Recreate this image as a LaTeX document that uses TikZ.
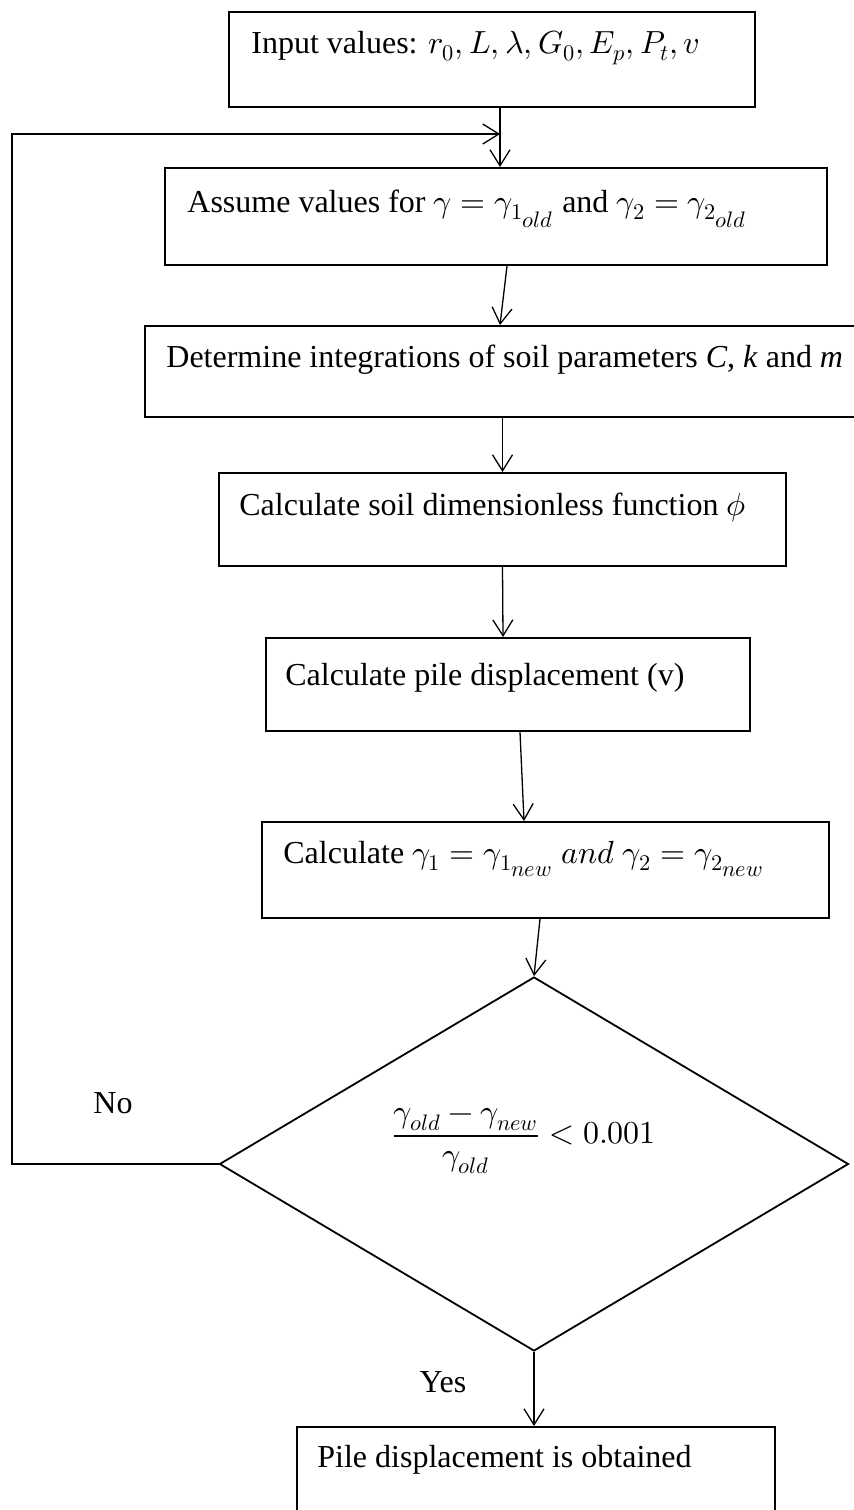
\documentclass[tikz,border=0pt]{standalone}
\usepackage{fontspec}
\usepackage{unicode-math}
\setmainfont{Liberation Serif}
\setmathfont{Latin Modern Math}
\usetikzlibrary{arrows.meta,shapes.geometric}
\tikzset{
  box/.style={draw,line width=1pt,rectangle,inner sep=0pt},
  txt/.style={inner sep=0pt,anchor=base west,font=\fontsize{16}{19}\selectfont},
  lbl/.style={inner sep=0pt,font=\fontsize{16}{19}\selectfont},
  conn/.style={line width=0.65pt,-{Straight Barb[length=8pt,width=10pt,line width=0.65pt]}},
  decision/.style={draw,diamond,line width=0.9pt,inner sep=0pt,minimum width=314.5pt,minimum height=187pt}
}
\newcommand{\sss}[1]{{\scriptstyle #1}}
\begin{document}
\begin{tikzpicture}[x=0.5pt,y=-0.5pt]
\useasboundingbox (0,0) rectangle (854,1510);
% boxes
\node[box,minimum width=263pt,minimum height=47.5pt] (b1) at (492,59.5) {};
\node[box,minimum width=331pt,minimum height=48.5pt] (b2) at (496,216.5) {};
\node[box,minimum width=357.5pt,minimum height=45.5pt] (b3) at (502.5,371.5) {};
\node[box,minimum width=283.5pt,minimum height=46.5pt] (b4) at (502.5,519.5) {};
\node[box,minimum width=242pt,minimum height=46.5pt] (b5) at (508,684.5) {};
\node[box,minimum width=283.5pt,minimum height=48pt] (b6) at (545.5,870) {};
\node[decision] (d) at (534,1164) {};
\node[box,minimum width=239pt,minimum height=51.5pt] (b7) at (536,1478.5) {};
% texts
\node[txt] (t1) at (251,53) {Input values: $r_0, L, \lambda, G_0, E_p, P_t, v$};
\node[txt] (t2) at (187,212) {Assume values for $\gamma = \gamma_{1_{\sss{old}}}$ and $\gamma_2 = \gamma_{2_{\sss{old}}}$};
\node[txt] (t3) at (166,367) {Determine integrations of soil parameters \textit{C}, \textit{k} and \textit{m}};
\node[txt] (t4) at (239,515) {Calculate soil dimensionless function $\phi$};
\node[txt] (t5) at (285,685) {Calculate pile displacement (v)};
\node[txt] (t6) at (283,863) {Calculate $\gamma_1 = \gamma_{1_{\sss{new}}}\ and\ \gamma_2 = \gamma_{2_{\sss{new}}}$};
\node[lbl,anchor=west] (t8) at (391,1141) {$\dfrac{\gamma_{old}-\gamma_{new}}{\gamma_{old}} < 0.001$};
\node[txt] (t7) at (317,1467) {Pile displacement is obtained};
\node[lbl] (no) at (113,1103) {No};
\node[lbl] (yes) at (443,1382) {Yes};
% helper coordinates for feedback loop
\coordinate (cl) at (12,134);
\coordinate (j) at (500,134);
% connectors
\draw[conn] ([xshift=4pt]b1.south) -- ([xshift=2pt]b2.north);
\draw[conn] (d.west) -| (cl) -- (j);
\draw[conn] ([xshift=5.5pt]b2.south) -- ([xshift=-1.25pt]b3.north);
\draw[conn] (b3.south) -- (b4.north);
\draw[conn] (b4.south) -- ([xshift=-2.5pt]b5.north);
\draw[conn] ([xshift=6pt]b5.south) -- ([xshift=-10.75pt]b6.north);
\draw[conn] ([xshift=-2.75pt]b6.south) -- (d.north);
\draw[conn] (d.south) -- (d.south |- b7.north);
\end{tikzpicture}
\end{document}
